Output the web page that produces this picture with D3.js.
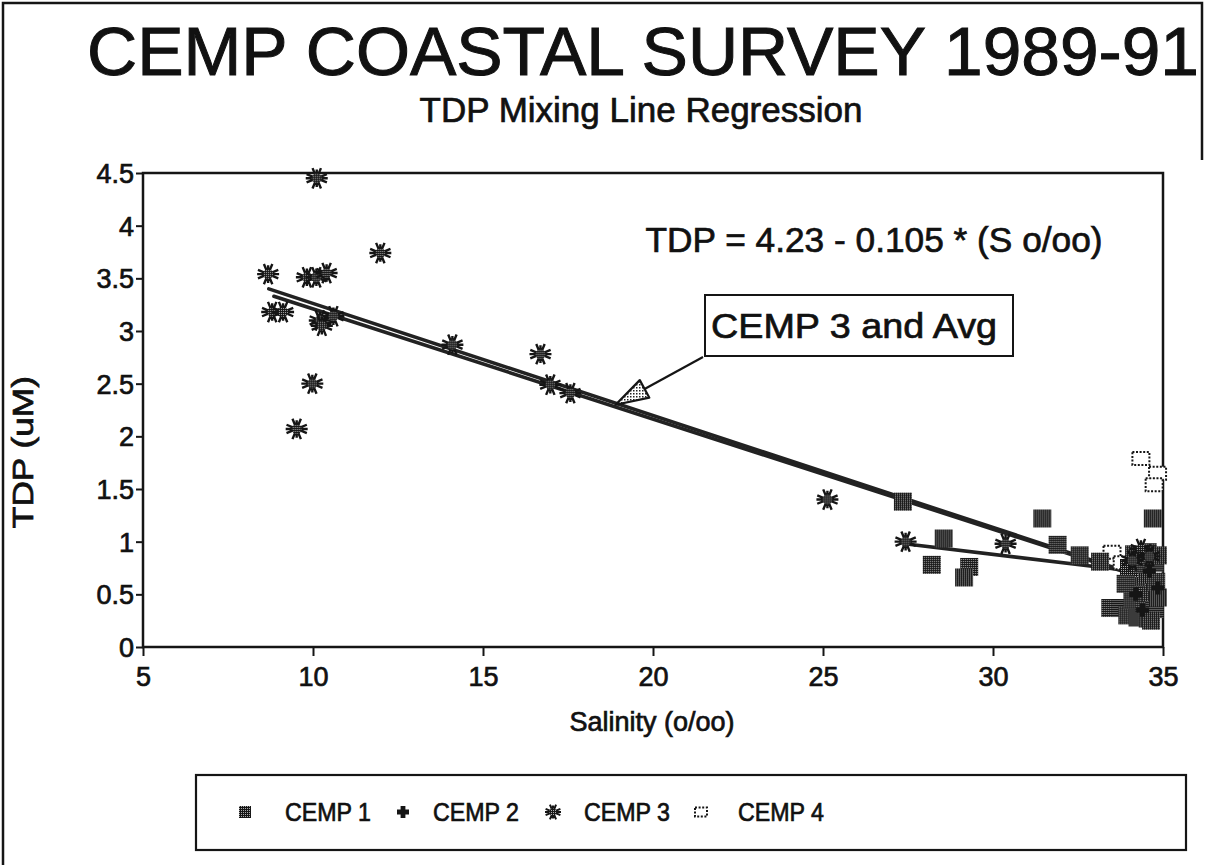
<!DOCTYPE html>
<html><head><meta charset="utf-8">
<script src="https://cdn.jsdelivr.net/npm/d3@7"></script>
<style>
html,body{margin:0;padding:0;background:#fff;}
svg text{font-family:"Liberation Sans",Arial,sans-serif;fill:#111;stroke:#111;stroke-width:0.7px;}
</style></head>
<body>
<svg id="chart" width="1205" height="865"></svg>
<script>
// ---- data (salinity o/oo, TDP uM) ----
const cemp1 = [[27.35,1.38],[28.55,1.03],[28.2,0.78],[29.3,0.76],[29.15,0.66],[31.45,1.22],[31.9,0.97],[32.55,0.87],[33.15,0.81],[34.7,1.22],[33.45,0.37],[33.75,0.37],
  [33.95,0.30],[34.25,0.28],[34.55,0.27],[34.1,0.45],[34.45,0.41],[34.75,0.36],[34.3,0.56],[34.65,0.52],[34.85,0.47],[34.2,0.66],[34.5,0.69],[34.8,0.62],
  [34.0,0.75],[34.4,0.79],[34.75,0.80],[34.15,0.88],[34.55,0.90],[34.85,0.87],[33.9,0.60],[34.65,0.25]];
const cemp2 = [[34.2,0.50],[34.6,0.72],[34.4,0.35],[34.85,0.56]];
const cemp3 = [[8.68,3.54],[8.8,3.18],[9.12,3.18],[9.52,2.07],[9.98,2.50],[9.82,3.51],[10.1,3.51],[10.4,3.55],[11.98,3.74],[10.11,4.45],
  [10.2,3.10],[10.26,3.05],[10.6,3.14],[14.1,2.87],[16.69,2.78],[16.98,2.49],[17.57,2.41],[25.13,1.40],[27.43,1.00],[30.37,0.98],[34.35,0.93],[34.1,0.82],[34.6,0.86]];
const cemp4 = [[34.35,1.79],[34.84,1.65],[34.74,1.54],[33.5,0.90],[33.8,0.80]];
const fitLines = [
  {from:[8.7,3.40], to:[33.8,0.73]},
  {from:[8.85,3.33], to:[34.0,0.70]},
  {from:[27.4,0.98], to:[33.6,0.74]}
];
const xTicks = [5,10,15,20,25,30,35];
const yTicks = [0,0.5,1,1.5,2,2.5,3,3.5,4,4.5];
const seriesNames = ["CEMP 1","CEMP 2","CEMP 3","CEMP 4"];
const titleText = "CEMP COASTAL SURVEY 1989-91";
const subtitleText = "TDP Mixing Line Regression";
const equationText = "TDP = 4.23 - 0.105 * (S o/oo)";
const calloutText = "CEMP 3 and Avg";
const calloutTip = [18.9, 2.30];

// ---- layout ----
const svg = d3.select("#chart");
const L = 143, R = 1163, T = 173, B = 647;
const x = d3.scaleLinear().domain([5,35]).range([L,R]);
const y = d3.scaleLinear().domain([0,4.5]).range([B,T]);
const ink = "#151515";

const defs = svg.append("defs");
const pat = defs.append("pattern").attr("id","dither").attr("width",2).attr("height",2).attr("patternUnits","userSpaceOnUse");
pat.append("rect").attr("width",2).attr("height",2).attr("fill","#161616");
pat.append("rect").attr("width",1).attr("height",1).attr("fill","#aaa");
const pat2 = defs.append("pattern").attr("id","hatch").attr("width",3).attr("height",3).attr("patternUnits","userSpaceOnUse");
pat2.append("rect").attr("width",3).attr("height",3).attr("fill","#fff");
pat2.append("rect").attr("width",1.5).attr("height",1.5).attr("fill","#222");

// outer frame
svg.append("path").attr("d","M3,865V3H1202V160").attr("fill","none").attr("stroke",ink).attr("stroke-width",2.5);

// titles
svg.append("text").attr("x",643).attr("y",75).attr("text-anchor","middle").attr("font-size",68).style("stroke-width","1px")
  .attr("textLength",1112).attr("lengthAdjust","spacingAndGlyphs").text(titleText);
svg.append("text").attr("x",641).attr("y",122).attr("text-anchor","middle").attr("font-size",35).text(subtitleText);

// plot frame
svg.append("rect").attr("x",L).attr("y",T).attr("width",R-L).attr("height",B-T).attr("fill","none").attr("stroke",ink).attr("stroke-width",2.5);

// axes
const xAxis = svg.append("g").attr("transform",`translate(0,${B})`)
  .call(d3.axisBottom(x).tickValues(xTicks).tickSize(9).tickPadding(4).tickFormat(d3.format("d")));
xAxis.select(".domain").remove();
xAxis.selectAll("line").attr("stroke",ink).attr("stroke-width",2);
xAxis.selectAll("text").attr("font-size",27).attr("dy","0.95em").attr("font-family",null);

const yAxis = svg.append("g").attr("transform",`translate(${L},0)`)
  .call(d3.axisLeft(y).tickValues(yTicks).tickSize(7).tickPadding(2).tickFormat(d => d3.format("~g")(d)));
yAxis.select(".domain").remove();
yAxis.selectAll("line").attr("stroke",ink).attr("stroke-width",2);
yAxis.selectAll("text").attr("font-size",27).attr("dy","0.35em").attr("font-family",null);

svg.append("text").attr("x",652).attr("y",731).attr("text-anchor","middle").attr("font-size",27).text("Salinity (o/oo)");
svg.append("text").attr("transform",`translate(33,${y(1.85)}) rotate(-90)`).attr("text-anchor","middle").attr("font-size",29)
  .attr("textLength",152).attr("lengthAdjust","spacingAndGlyphs").text("TDP (uM)");

// regression lines
svg.append("g").selectAll("line").data(fitLines).join("line")
  .attr("x1",d=>x(d.from[0])).attr("y1",d=>y(d.from[1]))
  .attr("x2",d=>x(d.to[0])).attr("y2",d=>y(d.to[1]))
  .attr("stroke","#222").attr("stroke-width",3.6).attr("stroke-linecap","round");

// marker painters
function square(g, s){ g.append("rect").attr("x",-s/2).attr("y",-s/2).attr("width",s).attr("height",s).attr("fill","url(#dither)"); }
function plus(g, s){ const a=s/2, b=s/5;
  g.append("path").attr("d",`M${-b},${-a}H${b}V${-b}H${a}V${b}H${b}V${a}H${-b}V${b}H${-a}V${-b}H${-b}Z`).attr("fill",ink); }
function star(g, r, w){
  const p = d3.range(8).map(i=>{const a=i*Math.PI/4+Math.PI/8; return `M0,0L${(r*Math.cos(a)).toFixed(2)},${(r*Math.sin(a)).toFixed(2)}`;}).join("")
    + `M${-r},0H${r}M0,${-r*0.8}V${r*0.8}`;
  g.append("path").attr("d",p).attr("stroke",ink).attr("stroke-width",w).attr("fill","none");
  g.append("circle").attr("r",r*0.45).attr("fill","url(#dither)");
}
function openSq(g, w, h){ g.append("rect").attr("x",-w/2).attr("y",-h/2).attr("width",w).attr("height",h)
  .attr("fill","#fff").attr("stroke",ink).attr("stroke-width",2).attr("stroke-dasharray","2,1.6"); }

const pts = svg.append("g");
pts.selectAll("g.c4").data(cemp4).join("g").attr("class","c4").attr("transform",d=>`translate(${x(d[0])},${y(d[1])})`).each(function(){openSq(d3.select(this),17,13);});
pts.selectAll("g.c1").data(cemp1).join("g").attr("class","c1").attr("transform",d=>`translate(${x(d[0])},${y(d[1])})`).each(function(){square(d3.select(this),18);});
pts.selectAll("g.c2").data(cemp2).join("g").attr("class","c2").attr("transform",d=>`translate(${x(d[0])},${y(d[1])})`).each(function(){plus(d3.select(this),13);});
pts.selectAll("g.c3").data(cemp3).join("g").attr("class","c3").attr("transform",d=>`translate(${x(d[0])},${y(d[1])})`).each(function(){star(d3.select(this),11,2.4);});

// equation
svg.append("text").attr("x",874).attr("y",252).attr("text-anchor","middle").attr("font-size",35)
  .attr("textLength",457).attr("lengthAdjust","spacingAndGlyphs").text(equationText);

// callout
const bx=705, by=295, bw=308, bh=61;
svg.append("rect").attr("x",bx).attr("y",by).attr("width",bw).attr("height",bh).attr("fill","#fff").attr("stroke",ink).attr("stroke-width",2);
svg.append("text").attr("x",854).attr("y",by+bh/2).attr("dy","0.36em").attr("text-anchor","middle").attr("font-size",35)
  .attr("textLength",286).attr("lengthAdjust","spacingAndGlyphs").text(calloutText);
const tip=[x(calloutTip[0]), y(calloutTip[1])], tail=[bx-2, by+bh+1];
const dx=tail[0]-tip[0], dy=tail[1]-tip[1], len=Math.hypot(dx,dy), ux=dx/len, uy=dy/len;
const hl=33, hw=10, base=[tip[0]+ux*hl, tip[1]+uy*hl];
svg.append("line").attr("x1",base[0]).attr("y1",base[1]).attr("x2",tail[0]).attr("y2",tail[1]).attr("stroke",ink).attr("stroke-width",2.2);
svg.append("path").attr("d",`M${tip[0]},${tip[1]}L${base[0]-uy*hw},${base[1]+ux*hw}L${base[0]+uy*hw},${base[1]-ux*hw}Z`)
  .attr("fill","url(#hatch)").attr("stroke",ink).attr("stroke-width",2.2).attr("stroke-linejoin","round");

// legend
const lg = svg.append("g");
lg.append("rect").attr("x",196).attr("y",775).attr("width",990).attr("height",75).attr("fill","none").attr("stroke",ink).attr("stroke-width",2.2);
const legX = [245, 403, 553, 701];
const legTextX = [285, 433, 584, 738];
seriesNames.forEach((n,i)=>{
  const g = lg.append("g").attr("transform",`translate(${legX[i]},812)`);
  if(i===0) square(g,12); else if(i===1) plus(g,12); else if(i===2) star(g,8,2); else openSq(g,12,9);
  lg.append("text").attr("x",legTextX[i]).attr("y",812).attr("dy","0.36em").attr("font-size",26)
    .attr("textLength",86).attr("lengthAdjust","spacingAndGlyphs").text(n);
});
</script>
</body></html>
